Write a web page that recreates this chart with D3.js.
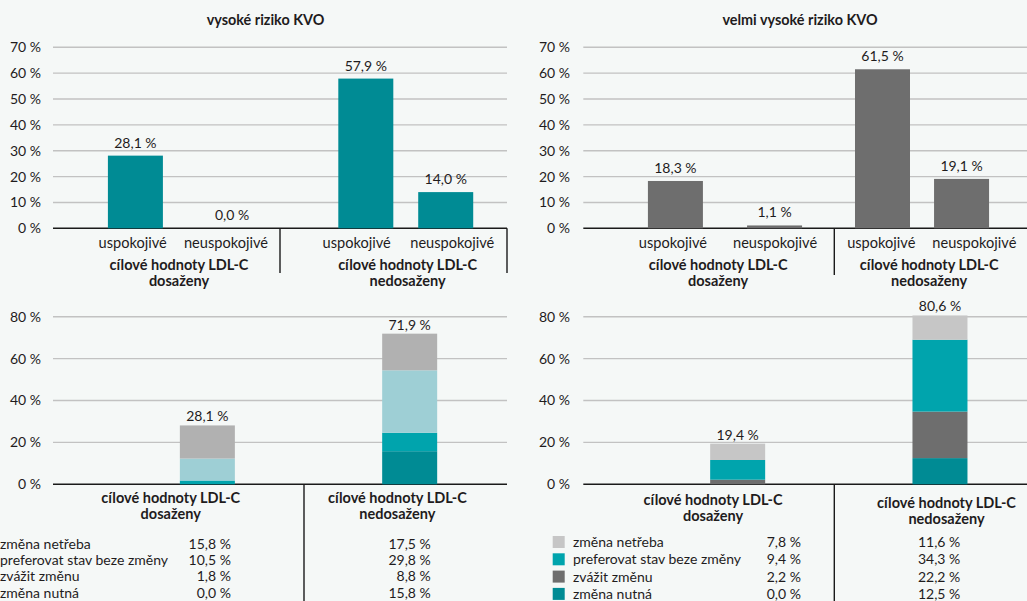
<!DOCTYPE html>
<html><head><meta charset="utf-8">
<script src="https://cdn.jsdelivr.net/npm/d3@7"></script>
<style>
html,body{margin:0;padding:0;background:#f5f8f7;}
svg{display:block;font-family:Lato,"Noto Sans",sans-serif;}
</style></head><body>
<svg id="chart" width="1027" height="601"></svg>
<script>
// ---------- data ----------
const panelTitles = ['vysoké riziko KVO', 'velmi vysoké riziko KVO'];
const groupLabelLine1 = 'cílové hodnoty LDL-C';
const targetGroups = ['dosaženy', 'nedosaženy'];
const controlCategories = ['uspokojivé', 'neuspokojivé'];

const highRiskAchieved = [28.1, 0.0];
const highRiskNotAchieved = [57.9, 14.0];
const veryHighRiskAchieved = [18.3, 1.1];
const veryHighRiskNotAchieved = [61.5, 19.1];

const topTicks = [0, 10, 20, 30, 40, 50, 60, 70];
const bottomTicks = [0, 20, 40, 60, 80];

// legend / table order (top to bottom); stacked bottom-up in reverse
const changeSeries = ['změna netřeba', 'preferovat stav beze změny', 'zvážit změnu', 'změna nutná'];
const highRiskChangeAchieved = [15.8, 10.5, 1.8, 0.0];
const highRiskChangeNotAchieved = [17.5, 29.8, 8.8, 15.8];
const veryHighRiskChangeAchieved = [7.8, 9.4, 2.2, 0.0];
const veryHighRiskChangeNotAchieved = [11.6, 34.3, 22.2, 12.5];
const highRiskChangeTotals = [28.1, 71.9];
const veryHighRiskChangeTotals = [19.4, 80.6];

const highRiskChangeColors = ['#b1b1b1', '#9ecfd5', '#00a4ad', '#008b94'];
const veryHighRiskChangeColors = ['#c6c6c6', '#00a4ad', '#6e6e6e', '#008b94'];
const highRiskBarColor = '#008b94';
const veryHighRiskBarColor = '#6e6e6e';

// ---------- helpers ----------
const locale = d3.formatLocale({decimal: ',', thousands: ' ', grouping: [3], currency: ['', '']});
const fmt1 = locale.format('.1f');
const pct1 = v => fmt1(v) + ' %';
const pct0 = v => v + ' %';
const svg = d3.select('#chart');
const TEXT = '#1f1c1d';
const GRID = '#c2c2c2';

function yAxisAndGrid(g, y, ticks, cfg) {
  g.append('g').selectAll('line').data(ticks.filter(t => t > 0)).join('line')
    .attr('x1', cfg.left).attr('x2', cfg.right)
    .attr('y1', d => y(d)).attr('y2', d => y(d))
    .attr('stroke', GRID).attr('stroke-width', 1.4);
  const ax = g.append('g').attr('transform', `translate(${cfg.tickX},0)`)
    .call(d3.axisLeft(y).tickValues(ticks).tickFormat(pct0).tickSize(0).tickPadding(0));
  ax.select('.domain').remove();
  ax.selectAll('text').attr('font-size', 14).attr('fill', TEXT).attr('font-family', 'Lato');
  g.append('line').attr('x1', cfg.left).attr('x2', cfg.right)
    .attr('y1', y(0)).attr('y2', y(0)).attr('stroke', '#1a1a1a').attr('stroke-width', 1.6);
}

function drawTop(cfg) {
  const g = svg.append('g');
  const y = d3.scaleLinear().domain([0, d3.max(topTicks)]).range([cfg.y0, cfg.yTop]);
  const gx = d3.scaleBand().domain(targetGroups).range([cfg.left, cfg.left + 2 * cfg.gw]);
  g.append('text').attr('x', cfg.titleX).attr('y', 25).attr('text-anchor', 'middle')
    .attr('font-weight', 700).attr('font-size', 14.4).attr('fill', TEXT).text(cfg.title);
  yAxisAndGrid(g, y, topTicks, cfg);
  targetGroups.forEach((grp, gi) => {
    const barX = d3.scalePoint().domain(controlCategories).range(cfg.barFrac[gi].map(f => gx(grp) + f * cfg.gw));
    const labX = d3.scalePoint().domain(controlCategories).range(cfg.labelFrac[gi].map(f => gx(grp) + f * cfg.gw));
    const vals = cfg.values[gi];
    const data = controlCategories.map((c, i) => ({c, v: vals[i]}));
    g.append('g').selectAll('rect').data(data).join('rect')
      .attr('x', d => barX(d.c) - cfg.barW / 2).attr('width', cfg.barW)
      .attr('y', d => y(d.v)).attr('height', d => y(0) - y(d.v))
      .attr('fill', cfg.color);
    g.append('g').selectAll('text').data(data).join('text')
      .attr('x', d => barX(d.c)).attr('y', d => y(d.v) - 8)
      .attr('text-anchor', 'middle').attr('font-size', 14).attr('fill', TEXT)
      .text(d => pct1(d.v));
    g.append('g').selectAll('text').data(data).join('text')
      .attr('x', d => labX(d.c)).attr('y', 248)
      .attr('text-anchor', 'middle').attr('font-size', 14.6).attr('fill', TEXT)
      .text(d => d.c);
    const gl = g.append('text').attr('text-anchor', 'middle').attr('font-weight', 700)
      .attr('font-size', 14.5).attr('fill', TEXT);
    const cx = gx(grp) + cfg.groupLabelFrac[gi] * cfg.gw;
    gl.append('tspan').attr('x', cx).attr('y', 269.5).text(groupLabelLine1);
    gl.append('tspan').attr('x', cx).attr('y', 285.5).text(grp);
  });
  cfg.separators.forEach(s => {
    const sx = s === 'mid' ? gx(targetGroups[1]) : cfg.right;
    g.append('line').attr('x1', sx).attr('x2', sx).attr('y1', y(0)).attr('y2', cfg.sepBottom)
      .attr('stroke', '#1a1a1a').attr('stroke-width', 1.4);
  });
}

function drawBottom(cfg) {
  const g = svg.append('g');
  const y = d3.scaleLinear().domain([0, d3.max(bottomTicks)]).range([cfg.y0, cfg.yTop]);
  const gx = d3.scaleBand().domain(targetGroups).range([cfg.left, cfg.left + 2 * cfg.gw]);
  yAxisAndGrid(g, y, bottomTicks, cfg);
  const stackOrder = changeSeries.slice().reverse();
  targetGroups.forEach((grp, gi) => {
    const vals = cfg.values[gi];
    const row = {};
    changeSeries.forEach((s, i) => row[s] = vals[i]);
    const stacked = d3.stack().keys(stackOrder)([row]);
    const cx = gx(grp) + cfg.barFrac[gi] * cfg.gw;
    g.append('g').selectAll('rect').data(stacked).join('rect')
      .attr('x', cx - cfg.barW / 2).attr('width', cfg.barW)
      .attr('y', d => y(d[0][1])).attr('height', d => y(d[0][0]) - y(d[0][1]))
      .attr('fill', d => cfg.colors[changeSeries.indexOf(d.key)]);
    g.append('text').attr('x', cx).attr('y', y(cfg.totals[gi]) - 4)
      .attr('text-anchor', 'middle').attr('font-size', 14).attr('fill', TEXT)
      .text(pct1(cfg.totals[gi]));
    const lx = gx(grp) + cfg.groupLabelFrac[gi] * cfg.gw;
    const gl = g.append('text').attr('text-anchor', 'middle').attr('font-weight', 700)
      .attr('font-size', 14.5).attr('fill', TEXT);
    gl.append('tspan').attr('x', lx).attr('y', cfg.groupLabelY[gi][0]).text(groupLabelLine1);
    gl.append('tspan').attr('x', lx).attr('y', cfg.groupLabelY[gi][1]).text(grp);
    const vx = gx(grp) + cfg.valueFrac[gi] * cfg.gw;
    g.append('g').selectAll('text').data(vals).join('text')
      .attr('x', vx).attr('y', (d, i) => cfg.rowY + i * cfg.rowStep)
      .attr('text-anchor', 'end').attr('font-size', 14).attr('fill', TEXT)
      .text(d => pct1(d));
  });
  // legend
  const lg = g.append('g');
  changeSeries.forEach((s, i) => {
    const by = cfg.rowY + i * cfg.rowStep;
    if (cfg.swatchX !== null) {
      lg.append('rect').attr('x', cfg.swatchX).attr('y', by - 11).attr('width', 12).attr('height', 12)
        .attr('fill', cfg.colors[i]);
    }
    lg.append('text').attr('x', cfg.legendTextX).attr('y', by).attr('font-size', 14)
      .attr('fill', TEXT).text(s);
  });
  const sx = gx(targetGroups[1]);
  g.append('line').attr('x1', sx).attr('x2', sx).attr('y1', y(0)).attr('y2', 601)
    .attr('stroke', '#1a1a1a').attr('stroke-width', 1.4);
}

drawTop({
  title: panelTitles[0], titleX: 265.5, left: 53, right: 507, gw: 227, tickX: 41,
  y0: 228.3, yTop: 47.3, barW: 55, color: highRiskBarColor,
  values: [highRiskAchieved, highRiskNotAchieved],
  barFrac: [[.363, .789], [.378, .730]], labelFrac: [[.351, .762], [.338, .759]],
  groupLabelFrac: [.555, .562], separators: ['mid', 'end'], sepBottom: 273
});
drawTop({
  title: panelTitles[1], titleX: 800, left: 583.3, right: 1090, gw: 251, tickX: 570,
  y0: 228.3, yTop: 47.3, barW: 55, color: veryHighRiskBarColor,
  values: [veryHighRiskAchieved, veryHighRiskNotAchieved],
  barFrac: [[.367, .762], [.192, .507]], labelFrac: [[.357, .764], [.187, .558]],
  groupLabelFrac: [.537, .378], separators: ['mid'], sepBottom: 275
});
drawBottom({
  left: 53, right: 507, gw: 251, tickX: 41, y0: 484.3, yTop: 316.7, barW: 55,
  values: [highRiskChangeAchieved, highRiskChangeNotAchieved], totals: highRiskChangeTotals,
  colors: highRiskChangeColors, barFrac: [.615, .421], groupLabelFrac: [.469, .372],
  groupLabelY: [[503, 519], [503, 519]], valueFrac: [.709, .505],
  rowY: 549, rowStep: 16.2, swatchX: null, legendTextX: 0
});
drawBottom({
  left: 583.3, right: 1090, gw: 251, tickX: 570, y0: 484.3, yTop: 316.7, barW: 55,
  values: [veryHighRiskChangeAchieved, veryHighRiskChangeNotAchieved], totals: veryHighRiskChangeTotals,
  colors: veryHighRiskChangeColors, barFrac: [.615, .421], groupLabelFrac: [.517, .447],
  groupLabelY: [[505, 521], [508, 524]], valueFrac: [.867, .502],
  rowY: 547, rowStep: 17.3, swatchX: 552.7, legendTextX: 573
});
</script>
</body></html>
